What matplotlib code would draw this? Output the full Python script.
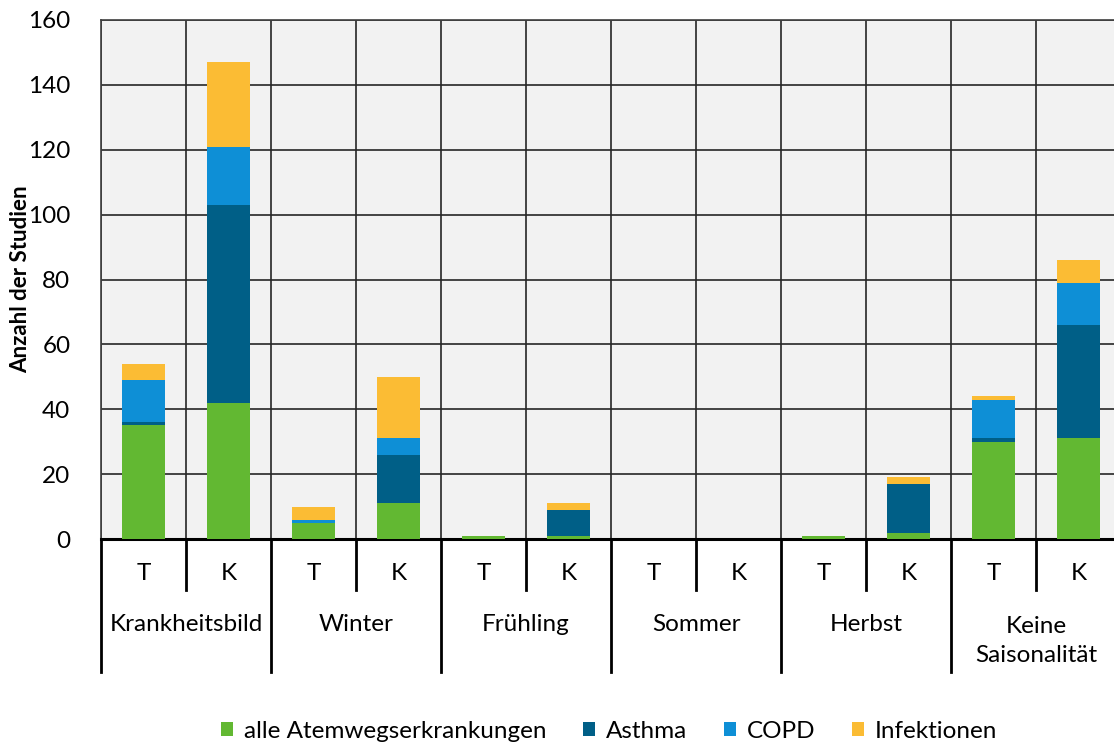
import numpy as np
import matplotlib.pyplot as plt
from matplotlib.patches import Patch

plt.rcParams['font.family'] = ['Lato', 'DejaVu Sans']

groups = ['Krankheitsbild', 'Winter', 'Frühling', 'Sommer', 'Herbst', 'Keine\nSaisonalität']
sub = ['T', 'K']
series = ['alle Atemwegserkrankungen', 'Asthma', 'COPD', 'Infektionen']
colors = ['#62b832', '#005f87', '#0e8fd6', '#fbbc34']

# order: Krankheitsbild T, K, Winter T, K, ...
alle = [35, 42, 5, 11, 1, 1, 0, 0, 1, 2, 30, 31]
asthma = [1, 61, 0, 15, 0, 8, 0, 0, 0, 15, 1, 35]
copd = [13, 18, 1, 5, 0, 0, 0, 0, 0, 0, 12, 13]
infekt = [5, 26, 4, 19, 0, 2, 0, 0, 0, 2, 1, 7]

W, H = 1114, 746
fig = plt.figure(figsize=(W / 100, H / 100), dpi=100)
ax = fig.add_axes([101 / W, 1 - 539 / H, 1020 / W, 519 / H])
ax.set_facecolor('#f2f2f2')

x = np.arange(len(alle))
bottom = np.zeros(len(alle))
for vals, c in zip([alle, asthma, copd, infekt], colors):
    ax.bar(x, vals, 0.5, bottom=bottom, color=c, zorder=3)
    bottom += np.array(vals)

ax.set_xlim(-0.5, len(alle) - 0.5)
ax.set_ylim(0, 160)
ax.set_yticks(range(0, 161, 20))
ax.tick_params(axis='y', length=0, labelsize=17.5, pad=22)
ax.set_xticks([])
ax.yaxis.grid(True, color='#262626', lw=1.2, zorder=1)
for b in np.arange(-0.5, len(alle), 1):
    ax.axvline(b, color='#262626', lw=1.2, zorder=1)
for s in ['top', 'left', 'right']:
    ax.spines[s].set_color('#404040')
    ax.spines[s].set_linewidth(1.2)
ax.spines['bottom'].set_linewidth(2.2)
ax.spines['bottom'].set_color('black')

ax.set_ylabel('Anzahl der Studien', fontsize=16, fontweight='bold', va='center')
ax.yaxis.set_label_coords(-80 / 1020, 0.5)

# multi-level category axis
tr = ax.get_xaxis_transform()
for i in range(len(alle)):
    ax.text(i, -0.067, sub[i % 2], transform=tr, ha='center', va='center', fontsize=17.5)
    if i % 2 == 1:
        ax.plot([i - 0.5, i - 0.5], [0, -0.098], transform=tr, color='black', lw=2, clip_on=False)
for g in range(len(groups) + 1):
    xb = 2 * g - 0.5
    ax.plot([xb, xb], [0, -0.256], transform=tr, color='black', lw=2, clip_on=False)
for g, name in enumerate(groups):
    ax.text(2 * g + 0.5, -0.164 if '\n' not in name else -0.197, name, transform=tr,
            ha='center', va='center', fontsize=17.5, linespacing=1.5)

handles = [Patch(facecolor=c, label=s) for s, c in zip(series, colors)]
fig.legend(handles=handles, loc='center', bbox_to_anchor=(609 / W, 1 - 731 / H), ncol=4,
           frameon=False, fontsize=17.5, handlelength=0.5, handleheight=0.5,
           handletextpad=0.45, columnspacing=1.5)

fig.savefig('out.png', dpi=100)
